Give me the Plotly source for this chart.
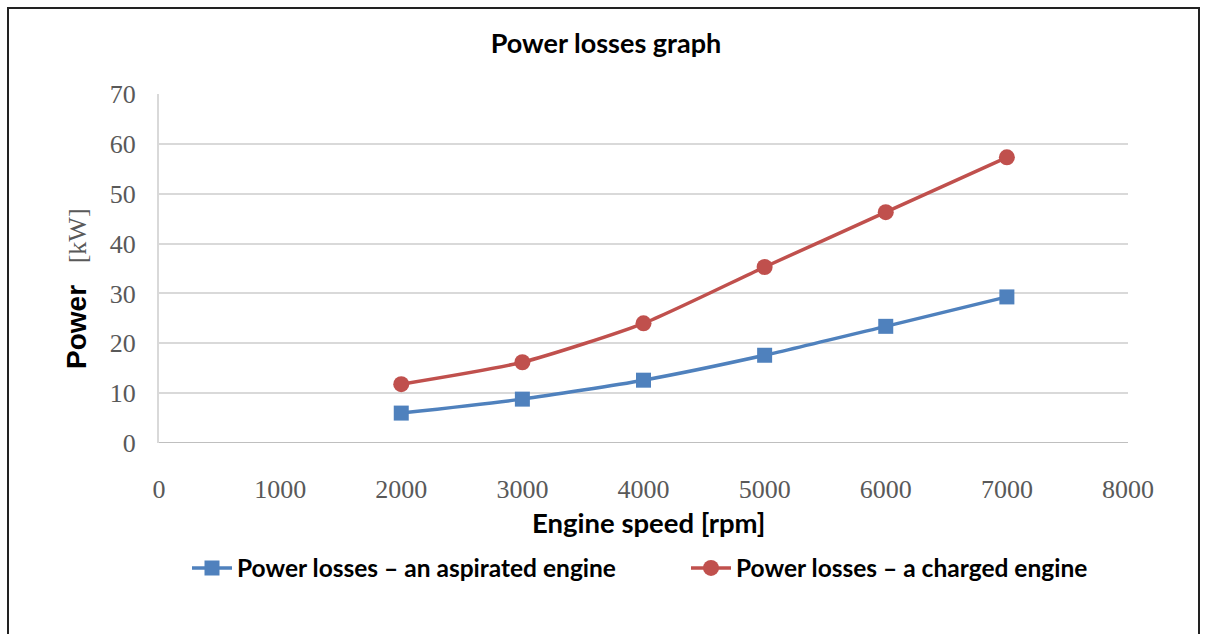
import plotly.graph_objects as go

# ── Data ──────────────────────────────────────────────────────────────────────
engine_speed = [2000, 3000, 4000, 5000, 6000, 7000]
losses_aspirated = [6.0, 8.8, 12.6, 17.6, 23.4, 29.3]
losses_charged = [11.8, 16.2, 24.0, 35.3, 46.3, 57.3]

x_ticks = [0, 1000, 2000, 3000, 4000, 5000, 6000, 7000, 8000]
y_ticks = [0, 10, 20, 30, 40, 50, 60, 70]

# ── Style ─────────────────────────────────────────────────────────────────────
BLUE = "#4f81bd"
RED = "#c0504d"
GRID = "#d9d9d9"
TICK = "#595959"
SANS = "Lato, Carlito, Calibri, sans-serif"
SERIF = "Liberation Serif, Times New Roman, serif"

W, H = 1207, 634
L, R, T, B = 159, 79, 94, 191
pw, ph = W - L - R, H - T - B


def px_x(p):
    return (p - L) / pw


def px_y(p):
    return (H - B - p) / ph


fig = go.Figure()

fig.add_trace(go.Scatter(
    x=engine_speed, y=losses_aspirated,
    mode="lines+markers",
    line=dict(color=BLUE, width=3.5, shape="spline", smoothing=0.6),
    marker=dict(symbol="square", size=15, color=BLUE),
    name="Power losses – an aspirated engine",
    legend="legend",
))

fig.add_trace(go.Scatter(
    x=engine_speed, y=losses_charged,
    mode="lines+markers",
    line=dict(color=RED, width=3.5, shape="spline", smoothing=0.6),
    marker=dict(symbol="circle", size=16, color=RED),
    name="Power losses – a charged engine",
    legend="legend2",
))

# outer frame (bottom edge runs off the page)
fig.add_shape(
    type="rect", xref="paper", yref="paper",
    x0=px_x(8), x1=px_x(1199), y0=px_y(660), y1=px_y(8),
    line=dict(color="#222222", width=2),
    layer="below",
)

y_title = (
    "<span style='font-family:Liberation Sans;font-weight:bold;color:black;font-size:28px'>Power</span>"
    "&nbsp;&nbsp;&nbsp;<span style='font-family:Liberation Serif;color:#595959'>[kW]</span>"
)

# axis titles
fig.add_annotation(
    text="<b>Engine speed [rpm]</b>",
    xref="paper", yref="paper", x=px_x(648), y=px_y(522),
    xanchor="center", yanchor="middle", showarrow=False,
    font=dict(family=SANS, size=27.5, color="black"),
)
fig.add_annotation(
    text=y_title, textangle=-90,
    xref="paper", yref="paper", x=px_x(76), y=px_y(289),
    xanchor="center", yanchor="middle", showarrow=False,
    font=dict(family="Liberation Sans", size=26, color="black"),
)

legend_style = dict(
    orientation="h",
    bgcolor="rgba(0,0,0,0)",
    font=dict(family=SANS, size=24.5, color="black", weight="bold"),
    xref="container", yref="container",
    xanchor="left",
    y=1 - 568 / H, yanchor="middle",
    itemwidth=40,
)

fig.update_layout(
    width=W, height=H,
    margin=dict(l=L, r=R, t=T, b=B, autoexpand=False),
    paper_bgcolor="white",
    plot_bgcolor="white",
    showlegend=True,
    title=dict(
        text="<b>Power losses graph</b>",
        x=606 / W, xanchor="center", xref="container",
        y=1 - 44 / H, yanchor="middle", yref="container",
        font=dict(family=SANS, size=27, color="black"),
    ),
    xaxis=dict(
        range=[0, 8000],
        tickvals=x_ticks,
        showgrid=False,
        zeroline=False,
        showline=False,
        ticks="",
        automargin=False,
        ticklabelstandoff=28,
        tickfont=dict(family=SERIF, size=26, color=TICK),
    ),
    yaxis=dict(
        range=[0, 70],
        tickvals=y_ticks,
        showgrid=True,
        gridcolor=GRID,
        gridwidth=2,
        zeroline=False,
        showline=True,
        linecolor=GRID,
        linewidth=2,
        ticks="",
        automargin=False,
        ticklabelstandoff=16,
        tickfont=dict(family=SERIF, size=26, color=TICK),
    ),
    legend=dict(x=187 / W, **legend_style),
    legend2=dict(x=686 / W, **legend_style),
)

# bottom axis line
fig.add_hline(y=0, line_color="#bfbfbf", line_width=2, layer="below")

fig.write_html(
    "out.html",
    config={"displayModeBar": False},
    post_script="document.body.style.margin='0';",
)
